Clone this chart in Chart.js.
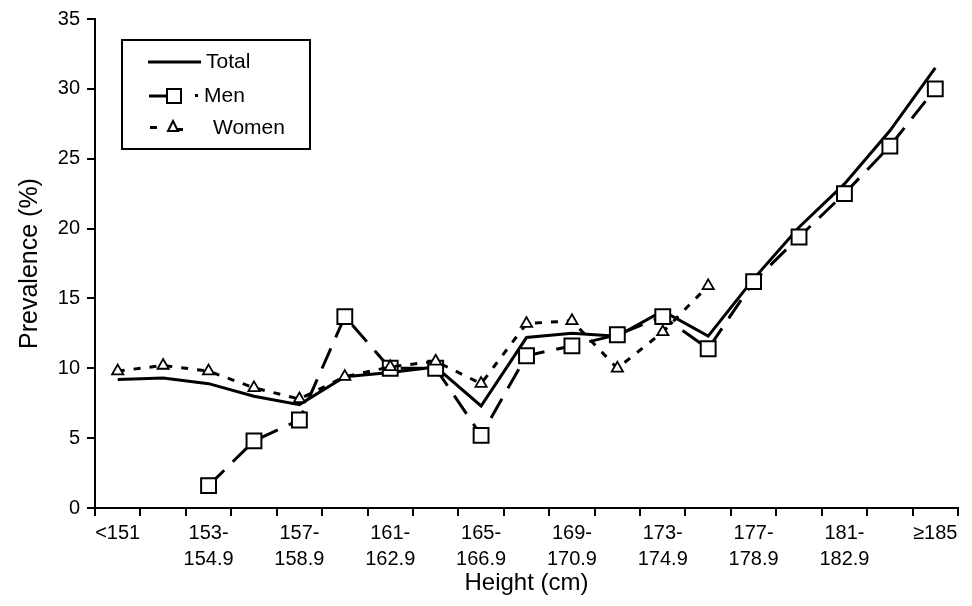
<!DOCTYPE html>
<html>
<head>
<meta charset="utf-8">
<script src="https://cdn.jsdelivr.net/npm/chart.js@4"></script>
<style>
  html, body { margin: 0; padding: 0; background: #fff; }
  #wrap { width: 972px; height: 606px; }
</style>
</head>
<body>
<div id="wrap"><canvas id="chart" width="972" height="606"></canvas></div>
<script>
// height groups, 2 cm wide
const categories = [
  '<151', '151-152.9', '153-154.9', '155-156.9', '157-158.9', '159-160.9',
  '161-162.9', '163-164.9', '165-166.9', '167-168.9', '169-170.9', '171-172.9',
  '173-174.9', '175-176.9', '177-178.9', '179-180.9', '181-182.9', '183-184.9', '≥185'
];
// only every other group is labelled on the axis
const tickLabels = [
  '<151', '', ['153-', '154.9'], '', ['157-', '158.9'], '',
  ['161-', '162.9'], '', ['165-', '166.9'], '', ['169-', '170.9'], '',
  ['173-', '174.9'], '', ['177-', '178.9'], '', ['181-', '182.9'], '', '≥185'
];

const total = [9.2, 9.3, 8.9, 8.0, 7.4, 9.4, 9.7, 10.1, 7.3, 12.2, 12.5, 12.3, 14.1, 12.3, 16.4, 20.1, 23.2, 27.0, 31.5];
const men = [null, null, 1.6, 4.8, 6.3, 13.7, 10.0, 10.0, 5.2, 10.9, 11.6, 12.4, 13.7, 11.4, 16.2, 19.4, 22.5, 25.9, 30.0];
const women = [9.8, 10.2, 9.8, 8.6, 7.8, 9.4, 10.1, 10.5, 8.9, 13.2, 13.4, 10.0, 12.6, 15.9, null, null, null, null, null];

const yTicks = [0, 5, 10, 15, 20, 25, 30, 35];

const FONT = 'Liberation Sans, Arial, sans-serif';

// legend box drawn in the upper left corner, like the original
const boxLegend = {
  id: 'boxLegend',
  afterDraw(chart) {
    const ctx = chart.ctx;
    ctx.save();
    ctx.strokeStyle = '#000';
    ctx.lineWidth = 2;
    ctx.strokeRect(122, 40, 188, 109);

    ctx.font = '21px ' + FONT;
    ctx.fillStyle = '#000';
    ctx.textBaseline = 'middle';

    // Total
    ctx.lineWidth = 3;
    ctx.setLineDash([]);
    ctx.beginPath(); ctx.moveTo(148, 62); ctx.lineTo(201, 62); ctx.stroke();
    ctx.fillText('Total', 206, 62);

    // Men
    ctx.beginPath(); ctx.moveTo(149, 96); ctx.lineTo(167, 96); ctx.stroke();
    ctx.lineWidth = 2;
    ctx.fillStyle = '#fff';
    ctx.fillRect(167, 89, 14, 14);
    ctx.strokeRect(167, 89, 14, 14);
    ctx.fillStyle = '#000';
    ctx.fillRect(195, 94, 3, 3);
    ctx.fillText('Men', 204, 96);

    // Women
    ctx.fillRect(150, 126, 7, 3);
    ctx.fillRect(177, 128, 6, 3);
    ctx.beginPath();
    ctx.moveTo(173, 121); ctx.lineTo(178, 131); ctx.lineTo(168, 131); ctx.closePath();
    ctx.fillStyle = '#fff'; ctx.fill(); ctx.stroke();
    ctx.fillStyle = '#000';
    ctx.fillText('Women', 213, 128);
    ctx.restore();
  }
};

new Chart(document.getElementById('chart'), {
  type: 'line',
  data: {
    labels: categories,
    datasets: [
      {
        label: 'Women',
        data: women,
        borderColor: '#000',
        borderWidth: 3,
        borderDash: [7, 9],
        pointStyle: 'triangle',
        pointRadius: 6.5,
        pointBorderWidth: 1.8,
        pointBackgroundColor: '#fff',
        pointBorderColor: '#000',
        tension: 0,
        order: 0
      },
      {
        label: 'Men',
        data: men,
        borderColor: '#000',
        borderWidth: 3,
        borderDash: [22, 12],
        pointStyle: 'rect',
        pointRadius: 10.5,
        pointBorderWidth: 2,
        pointBackgroundColor: '#fff',
        pointBorderColor: '#000',
        tension: 0,
        order: 1
      },
      {
        label: 'Total',
        data: total,
        borderColor: '#000',
        borderWidth: 3,
        pointRadius: 0,
        tension: 0,
        order: 2
      }
    ]
  },
  options: {
    responsive: false,
    animation: false,
    spanGaps: false,
    layout: { padding: { left: 15, top: 18, right: 14, bottom: 0 } },
    plugins: {
      legend: { display: false },
      tooltip: { enabled: false }
    },
    scales: {
      x: {
        offset: true,
        grid: { drawOnChartArea: false, offset: true, color: '#000', lineWidth: 2, tickLength: 8 },
        border: { color: '#000', width: 2 },
        ticks: {
          autoSkip: false,
          maxRotation: 0,
          color: '#000',
          padding: 4,
          font: { family: FONT, size: 20, lineHeight: 1.3 },
          callback: (v, i) => tickLabels[i]
        },
        title: {
          display: true,
          text: 'Height (cm)',
          color: '#000',
          font: { family: FONT, size: 24 },
          padding: { top: 0, bottom: 8 }
        },
        afterFit: s => { s.height = 98; }
      },
      y: {
        min: 0,
        max: 35,
        afterBuildTicks: s => { s.ticks = yTicks.map(v => ({ value: v })); },
        grid: { drawOnChartArea: false, color: '#000', lineWidth: 2, tickLength: 8 },
        border: { color: '#000', width: 2 },
        ticks: {
          color: '#000',
          padding: 7,
          font: { family: FONT, size: 20 }
        },
        title: {
          display: true,
          text: 'Prevalence (%)',
          color: '#000',
          font: { family: FONT, size: 25 },
          padding: { top: 0, bottom: 0 }
        },
        afterFit: s => { s.width = 80; }
      }
    }
  },
  plugins: [boxLegend]
});
</script>
</body>
</html>
